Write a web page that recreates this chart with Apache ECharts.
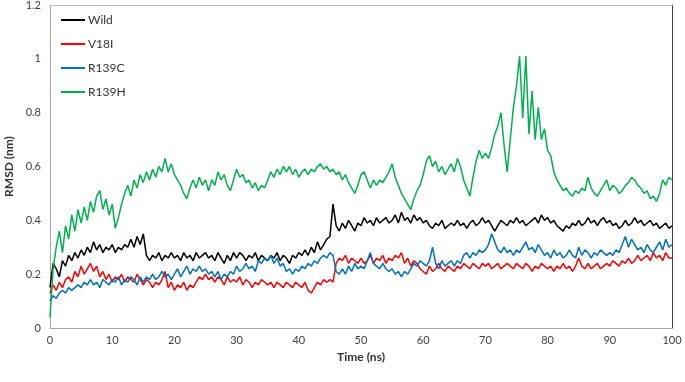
<!DOCTYPE html>
<html>
<head>
<meta charset="utf-8">
<script src="https://cdn.jsdelivr.net/npm/echarts@6/dist/echarts.min.js"></script>
<style>html,body{margin:0;padding:0;background:#fff;}#c{width:685px;height:382px;}</style>
</head>
<body>
<div id="c"></div>
<script>
// sampling step of the time series (ns)
const timeStep = 0.5;
const seriesNames = ['Wild', 'V18I', 'R139C', 'R139H'];
const xTicks = [0, 10, 20, 30, 40, 50, 60, 70, 80, 90, 100];
const yTicks = [0, 0.2, 0.4, 0.6, 0.8, 1, 1.2];

const wild = [
0.15,0.24,0.22,0.19,0.25,0.23,0.27,0.25,0.28,0.26,
0.29,0.27,0.30,0.28,0.32,0.29,0.31,0.28,0.30,0.29,
0.31,0.28,0.30,0.29,0.31,0.30,0.33,0.30,0.34,0.31,
0.35,0.27,0.25,0.27,0.26,0.28,0.25,0.27,0.26,0.28,
0.26,0.27,0.25,0.28,0.26,0.27,0.25,0.28,0.26,0.27,
0.28,0.26,0.27,0.25,0.28,0.26,0.24,0.27,0.25,0.28,
0.26,0.28,0.27,0.25,0.27,0.26,0.28,0.25,0.27,0.26,
0.25,0.27,0.26,0.28,0.25,0.27,0.26,0.24,0.27,0.26,
0.28,0.27,0.29,0.27,0.30,0.28,0.32,0.29,0.31,0.33,
0.34,0.46,0.38,0.36,0.39,0.37,0.40,0.38,0.36,0.39,
0.38,0.41,0.39,0.40,0.38,0.41,0.39,0.40,0.41,0.39,
0.40,0.42,0.39,0.43,0.40,0.41,0.39,0.42,0.40,0.41,
0.39,0.40,0.38,0.37,0.39,0.38,0.40,0.37,0.38,0.39,
0.38,0.40,0.38,0.39,0.37,0.39,0.40,0.38,0.39,0.41,
0.39,0.40,0.38,0.36,0.38,0.40,0.39,0.38,0.40,0.39,
0.41,0.39,0.40,0.38,0.39,0.40,0.41,0.39,0.42,0.40,
0.41,0.39,0.40,0.38,0.37,0.36,0.38,0.37,0.39,0.38,
0.40,0.38,0.39,0.41,0.39,0.40,0.38,0.40,0.41,0.39,
0.40,0.38,0.39,0.37,0.38,0.40,0.38,0.39,0.41,0.39,
0.40,0.38,0.39,0.40,0.38,0.39,0.37,0.38,0.39,0.37,
0.38];

const v18i = [
0.13,0.16,0.14,0.17,0.15,0.18,0.19,0.17,0.21,0.19,
0.23,0.20,0.22,0.24,0.21,0.23,0.19,0.21,0.18,0.20,
0.17,0.19,0.18,0.20,0.17,0.19,0.18,0.17,0.20,0.18,
0.16,0.18,0.17,0.15,0.17,0.16,0.18,0.21,0.15,0.17,
0.14,0.16,0.15,0.17,0.14,0.16,0.15,0.17,0.19,0.18,
0.20,0.18,0.19,0.17,0.19,0.18,0.16,0.19,0.17,0.18,
0.17,0.19,0.16,0.18,0.17,0.15,0.17,0.16,0.18,0.17,
0.16,0.17,0.15,0.17,0.16,0.15,0.17,0.16,0.15,0.17,
0.16,0.15,0.17,0.14,0.13,0.15,0.17,0.16,0.18,0.17,
0.18,0.17,0.24,0.26,0.25,0.27,0.24,0.26,0.25,0.24,
0.26,0.24,0.25,0.27,0.24,0.26,0.25,0.27,0.24,0.26,
0.25,0.27,0.26,0.28,0.24,0.26,0.23,0.25,0.24,0.22,
0.21,0.20,0.23,0.21,0.22,0.24,0.22,0.21,0.23,0.22,
0.21,0.23,0.22,0.24,0.23,0.22,0.24,0.23,0.22,0.24,
0.23,0.24,0.22,0.23,0.24,0.22,0.23,0.24,0.23,0.22,
0.24,0.23,0.22,0.24,0.23,0.21,0.23,0.22,0.24,0.23,
0.22,0.23,0.21,0.23,0.22,0.24,0.22,0.23,0.21,0.23,
0.26,0.23,0.22,0.24,0.22,0.23,0.24,0.22,0.23,0.24,
0.23,0.25,0.24,0.23,0.25,0.24,0.26,0.24,0.25,0.27,
0.25,0.26,0.27,0.25,0.28,0.26,0.27,0.25,0.28,0.26,
0.26];

const r139c = [
0.10,0.12,0.11,0.13,0.14,0.13,0.15,0.14,0.15,0.16,
0.15,0.17,0.16,0.18,0.16,0.17,0.15,0.18,0.17,0.16,
0.18,0.17,0.19,0.16,0.18,0.17,0.19,0.18,0.16,0.19,
0.17,0.19,0.18,0.20,0.18,0.19,0.21,0.19,0.20,0.18,
0.20,0.22,0.19,0.21,0.23,0.20,0.22,0.21,0.23,0.21,
0.22,0.20,0.21,0.19,0.21,0.18,0.20,0.19,0.21,0.20,
0.23,0.21,0.22,0.24,0.22,0.23,0.21,0.25,0.24,0.26,
0.25,0.27,0.24,0.26,0.23,0.24,0.21,0.22,0.20,0.22,
0.21,0.23,0.22,0.24,0.23,0.25,0.24,0.26,0.27,0.26,
0.28,0.27,0.21,0.20,0.22,0.20,0.23,0.21,0.24,0.22,
0.23,0.22,0.25,0.28,0.24,0.23,0.22,0.24,0.22,0.21,
0.22,0.20,0.21,0.19,0.21,0.20,0.22,0.24,0.23,0.25,
0.24,0.23,0.25,0.30,0.24,0.22,0.25,0.23,0.24,0.25,
0.23,0.25,0.24,0.27,0.28,0.26,0.28,0.27,0.29,0.28,
0.29,0.31,0.35,0.32,0.29,0.28,0.30,0.28,0.29,0.27,
0.29,0.28,0.30,0.32,0.29,0.30,0.28,0.31,0.29,0.27,
0.28,0.26,0.29,0.27,0.28,0.26,0.27,0.29,0.27,0.26,
0.30,0.27,0.29,0.28,0.26,0.28,0.27,0.29,0.28,0.27,
0.28,0.27,0.29,0.28,0.31,0.34,0.30,0.33,0.31,0.29,
0.30,0.28,0.31,0.29,0.28,0.30,0.32,0.29,0.33,0.30,
0.31];

const r139h = [
0.04,0.22,0.30,0.36,0.28,0.38,0.33,0.42,0.36,0.44,
0.39,0.45,0.40,0.47,0.43,0.49,0.51,0.44,0.48,0.42,
0.46,0.37,0.41,0.46,0.50,0.53,0.49,0.55,0.52,0.57,
0.54,0.58,0.55,0.59,0.56,0.60,0.58,0.63,0.58,0.61,
0.57,0.55,0.53,0.50,0.48,0.52,0.55,0.52,0.56,0.53,
0.55,0.51,0.55,0.53,0.58,0.55,0.57,0.53,0.51,0.55,
0.59,0.56,0.57,0.54,0.55,0.52,0.54,0.51,0.53,0.52,
0.55,0.58,0.56,0.59,0.57,0.60,0.58,0.60,0.57,0.59,
0.56,0.58,0.59,0.57,0.59,0.58,0.60,0.61,0.59,0.60,
0.58,0.59,0.57,0.58,0.55,0.57,0.54,0.52,0.50,0.53,
0.57,0.58,0.55,0.52,0.55,0.53,0.55,0.54,0.56,0.58,
0.61,0.56,0.53,0.50,0.48,0.46,0.44,0.48,0.51,0.53,
0.57,0.62,0.64,0.60,0.62,0.58,0.60,0.57,0.59,0.61,
0.58,0.63,0.60,0.55,0.52,0.49,0.56,0.62,0.66,0.63,
0.65,0.63,0.67,0.72,0.75,0.80,0.68,0.58,0.70,0.82,
0.90,1.01,0.78,1.01,0.72,0.88,0.70,0.82,0.70,0.74,
0.66,0.64,0.58,0.55,0.53,0.51,0.52,0.50,0.49,0.51,
0.50,0.52,0.51,0.56,0.52,0.50,0.49,0.51,0.53,0.55,
0.51,0.53,0.52,0.50,0.51,0.53,0.54,0.56,0.55,0.53,
0.52,0.50,0.51,0.48,0.49,0.47,0.50,0.55,0.53,0.56,
0.55];

const seriesValues = [wild, v18i, r139c, r139h];
const colors = ['#000000', '#ff0000', '#0070c0', '#00b050'];

function pairs(vals) {
  return vals.map((v, i) => [i * timeStep, v]);
}

const font = 'Lato, "Open Sans", "DejaVu Sans", sans-serif';
const chart = echarts.init(document.getElementById('c'), null, {renderer: 'canvas'});
chart.setOption({
  animation: false,
  backgroundColor: '#ffffff',
  grid: {left: 50, right: 13, top: 5, bottom: 54, containLabel: false, outerBoundsMode: 'none'},
  legend: {
    orient: 'vertical',
    left: 61, top: 13,
    padding: 0,
    itemWidth: 24, itemHeight: 2,
    itemGap: 10,
    icon: 'rect',
    textStyle: {fontFamily: font, fontSize: 12, color: '#333', padding: [0, 0, 0, -2], lineHeight: 14},
    data: seriesNames
  },
  xAxis: [{
    type: 'value', min: xTicks[0], max: xTicks[xTicks.length - 1], interval: 10,
    name: 'Time (ns)', nameLocation: 'middle', nameGap: 22,
    nameTextStyle: {fontFamily: font, fontSize: 12, fontWeight: 'bold', color: '#333'},
    axisLine: {show: true, lineStyle: {color: '#a6a6a6', width: 1}},
    axisTick: {show: false},
    axisLabel: {fontFamily: font, fontSize: 11, color: '#404040', margin: 7},
    splitLine: {show: false}
  }, {
    type: 'value', position: 'top', min: 0, max: 100,
    axisLine: {show: true, onZero: false, lineStyle: {color: '#bfbfbf', width: 1}},
    axisTick: {show: false}, axisLabel: {show: false}, splitLine: {show: false}
  }],
  yAxis: [{
    type: 'value', min: yTicks[0], max: yTicks[yTicks.length - 1], interval: 0.2,
    name: 'RMSD (nm)', nameLocation: 'middle', nameGap: 35,
    nameTextStyle: {fontFamily: font, fontSize: 12, fontWeight: 'bold', color: '#333'},
    axisLine: {show: true, lineStyle: {color: '#a6a6a6', width: 1}},
    axisTick: {show: false},
    axisLabel: {fontFamily: font, fontSize: 11, color: '#404040', margin: 9},
    splitLine: {show: false}
  }, {
    type: 'value', position: 'right', min: 0, max: 1.2,
    axisLine: {show: true, onZero: false, lineStyle: {color: '#404040', width: 1}},
    axisTick: {show: false}, axisLabel: {show: false}, splitLine: {show: false}
  }],
  series: seriesNames.map((name, k) => ({
    name: name,
    type: 'line',
    xAxisIndex: 0, yAxisIndex: 0,
    data: pairs(seriesValues[k]),
    showSymbol: false,
    symbol: 'none',
    lineStyle: {color: colors[k], width: 1.5},
    itemStyle: {color: colors[k]},
    emphasis: {disabled: true}
  }))
});
</script>
</body>
</html>
